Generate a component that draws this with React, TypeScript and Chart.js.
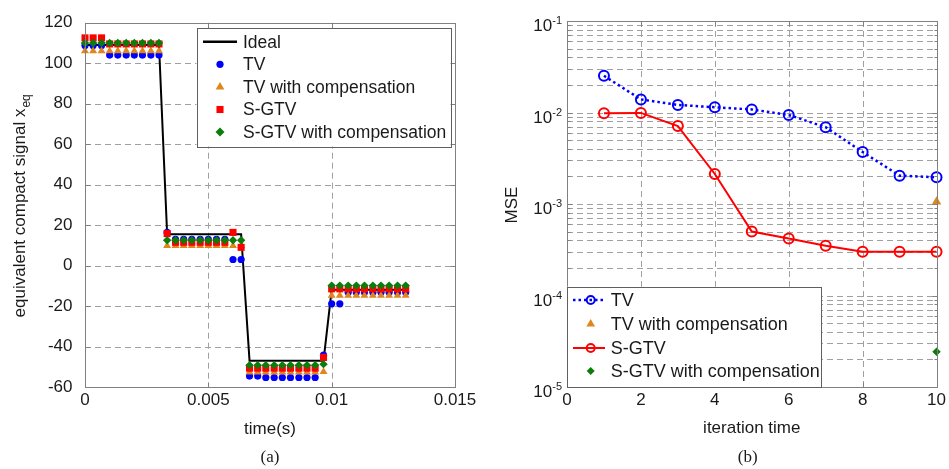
import React, { useEffect, useRef } from 'react';
import { Chart, registerables } from 'chart.js';

Chart.register(...registerables);

// ---------------- (a) time-domain signal ----------------
const TIME = [
  0, 0.00033, 0.00067, 0.001, 0.00133, 0.00167, 0.002, 0.00233, 0.00267, 0.003,
  0.00333, 0.00367, 0.004, 0.00433, 0.00467, 0.005, 0.00533, 0.00567, 0.006, 0.00633,
  0.00667, 0.007, 0.00733, 0.00767, 0.008, 0.00833, 0.00867, 0.009, 0.00933, 0.00967,
  0.01, 0.01033, 0.01067, 0.011, 0.01133, 0.01167, 0.012, 0.01233, 0.01267, 0.013,
];
const IDEAL = [
  109, 109, 109, 109, 109, 109, 109, 109, 109, 109,
  15.5, 15.5, 15.5, 15.5, 15.5, 15.5, 15.5, 15.5, 15.5, 15.5,
  -47, -47, -47, -47, -47, -47, -47, -47, -47, -47,
  -12, -12, -12, -12, -12, -12, -12, -12, -12, -12,
];
const TV = [
  108.7, 108.7, 108.7, 104, 104, 104, 104, 104, 104, 104,
  16.4, 13, 13, 13, 13, 13, 13, 13, 3, 3,
  -54.6, -54.6, -55.3, -55.3, -55.3, -55.3, -55.3, -55.3, -55.3, -44.3,
  -18.9, -18.9, -13.2, -13.2, -13.2, -13.2, -13.2, -13.2, -13.2, -13.2,
];
const TV_COMP = [
  106, 106, 106, 106, 106, 106, 106, 106, 106, 106,
  9.8, 9.8, 9.8, 9.8, 9.8, 9.8, 9.8, 9.8, 9.8, 9.8,
  -52.7, -52.7, -52.7, -52.7, -52.7, -52.7, -52.7, -52.7, -52.7, -52.5,
  -14.8, -14.8, -14.8, -14.8, -14.8, -14.8, -14.8, -14.8, -14.8, -14.8,
];
const SGTV = [
  112.5, 112.5, 112.5, 109.5, 109.5, 109.5, 109.5, 109.5, 109.5, 109.5,
  15.8, 11.5, 11.5, 11.5, 11.5, 11.5, 11.5, 11.5, 16.4, 9,
  -50.7, -50.7, -50.7, -50.7, -50.7, -50.7, -50.7, -50.7, -50.7, -45.4,
  -11.5, -11.5, -11.5, -11.5, -11.5, -11.5, -11.5, -11.5, -11.5, -11.5,
];
const SGTV_COMP = [
  110, 110, 110, 110, 110, 110, 110, 110, 110, 110,
  12.5, 12.5, 12.5, 12.5, 12.5, 12.5, 12.5, 12.5, 12.5, 12.5,
  -49.2, -49.2, -49.2, -49.2, -49.2, -49.2, -49.2, -49.2, -49.2, -48.7,
  -9.9, -9.9, -9.9, -9.9, -9.9, -9.9, -9.9, -9.9, -9.9, -9.9,
];
const A_X_TICKS = [0, 0.005, 0.01, 0.015];
const A_Y_TICKS = [-60, -40, -20, 0, 20, 40, 60, 80, 100, 120];

// ---------------- (b) MSE vs iteration ----------------
const ITER = [1, 2, 3, 4, 5, 6, 7, 8, 9, 10];
const MSE_TV = [0.0252, 0.0139, 0.0121, 0.0114, 0.0108, 0.0094, 0.0069, 0.0037, 0.00204, 0.00196];
const MSE_SGTV = [0.0098, 0.0099, 0.0071, 0.00213, 0.0005, 0.00042, 0.00035, 0.0003, 0.0003, 0.0003];
const COMP_ITER = [10];
const MSE_TV_COMP = [0.00106];
const MSE_SGTV_COMP = [0.0000243];
const B_X_TICKS = [0, 2, 4, 6, 8, 10];
const B_Y_DECADES = [-5, -4, -3, -2, -1];
const B_Y_MINOR = [1, 2, 3, 4, 5, 6, 7, 8, 9];

// ---------------- styles ----------------
const FONT = '"Liberation Sans", Arial, Helvetica, sans-serif';
const SERIF = '"Liberation Serif", "Times New Roman", serif';
const TEXT = '#1a1a1a';
const GRID = '#a0a0a0';
const BOX = '#808080';
const BLUE = '#0000ff';
const ORANGE = '#e0861a';
const RED = '#ff0000';
const GREEN = '#0a7d0a';

const LEFT_W = 490;
const RIGHT_W = 949 - LEFT_W;
const H = 469;

function seg(ctx: CanvasRenderingContext2D, x1: number, y1: number, x2: number, y2: number) {
  ctx.beginPath();
  ctx.moveTo(x1, y1);
  ctx.lineTo(x2, y2);
  ctx.stroke();
}

function marker(ctx: CanvasRenderingContext2D, style: string, x: number, y: number, r: number, color: string, hollow = false, lw = 0) {
  ctx.save();
  ctx.beginPath();
  if (style === 'circle') {
    ctx.arc(x, y, r, 0, Math.PI * 2);
  } else if (style === 'triangle') {
    ctx.moveTo(x, y - r);
    ctx.lineTo(x + r * 0.866, y + r * 0.5);
    ctx.lineTo(x - r * 0.866, y + r * 0.5);
    ctx.closePath();
  } else if (style === 'rect') {
    const s = r * Math.SQRT1_2;
    ctx.rect(x - s, y - s, 2 * s, 2 * s);
  } else if (style === 'rectRot') {
    ctx.moveTo(x - r, y);
    ctx.lineTo(x, y - r);
    ctx.lineTo(x + r, y);
    ctx.lineTo(x, y + r);
    ctx.closePath();
  }
  if (hollow) {
    ctx.strokeStyle = color;
    ctx.lineWidth = lw;
    ctx.stroke();
  } else {
    ctx.fillStyle = color;
    ctx.fill();
  }
  ctx.restore();
}

function drawGrid(chart: any, xVals: number[], yVals: number[]) {
  const { ctx, chartArea: a, scales } = chart;
  const xs = scales.x;
  const ys = scales.y;
  ctx.save();
  ctx.strokeStyle = GRID;
  ctx.lineWidth = 1;
  ctx.setLineDash([6, 4]);
  for (const v of xVals) {
    const px = Math.round(xs.getPixelForValue(v)) + 0.5;
    if (px <= a.left + 1 || px >= a.right - 1) continue;
    seg(ctx, px, a.top, px, a.bottom);
  }
  for (const v of yVals) {
    const py = Math.round(ys.getPixelForValue(v)) + 0.5;
    if (py <= a.top + 1 || py >= a.bottom - 1) continue;
    seg(ctx, a.left, py, a.right, py);
  }
  ctx.restore();
}

function drawBox(chart: any, xVals: number[], yMajor: number[], yMinor: number[] = []) {
  const { ctx, chartArea: a, scales } = chart;
  const xs = scales.x;
  const ys = scales.y;
  ctx.save();
  ctx.strokeStyle = BOX;
  ctx.lineWidth = 1;
  ctx.setLineDash([]);
  const L = Math.round(a.left) + 0.5;
  const R = Math.round(a.right) + 0.5;
  const T = Math.round(a.top) + 0.5;
  const B = Math.round(a.bottom) + 0.5;
  ctx.strokeRect(L, T, R - L, B - T);
  for (const v of xVals) {
    const px = Math.round(xs.getPixelForValue(v)) + 0.5;
    seg(ctx, px, B, px, B - 5);
    seg(ctx, px, T, px, T + 5);
  }
  for (const v of yMajor) {
    const py = Math.round(ys.getPixelForValue(v)) + 0.5;
    seg(ctx, L, py, L + 5, py);
    seg(ctx, R, py, R - 5, py);
  }
  for (const v of yMinor) {
    const py = Math.round(ys.getPixelForValue(v)) + 0.5;
    seg(ctx, L, py, L + 3, py);
    seg(ctx, R, py, R - 3, py);
  }
  ctx.restore();
}

type LegendRow = { label: string; line?: { color: string; dash: number[]; width: number }; mark?: { style: string; r: number; color: string; hollow?: boolean; lw?: number } };

function drawLegend(ctx: CanvasRenderingContext2D, box: { x: number; y: number; w: number; h: number }, rows: LegendRow[], rowY: number[], lineX: [number, number], markX: number, textX: number, fontPx: number) {
  ctx.save();
  ctx.fillStyle = '#ffffff';
  ctx.fillRect(box.x, box.y, box.w, box.h);
  ctx.strokeStyle = '#606060';
  ctx.lineWidth = 1;
  ctx.setLineDash([]);
  ctx.strokeRect(Math.round(box.x) + 0.5, Math.round(box.y) + 0.5, Math.round(box.w), Math.round(box.h));
  rows.forEach((row, i) => {
    const y = rowY[i];
    if (row.line) {
      ctx.save();
      ctx.strokeStyle = row.line.color;
      ctx.lineWidth = row.line.width;
      ctx.setLineDash(row.line.dash);
      seg(ctx, lineX[0], y, lineX[1], y);
      ctx.restore();
    }
    if (row.mark) {
      marker(ctx, row.mark.style, markX, y, row.mark.r, row.mark.color, !!row.mark.hollow, row.mark.lw || 0);
    }
    ctx.fillStyle = TEXT;
    ctx.font = `${fontPx}px ${FONT}`;
    ctx.textAlign = 'left';
    ctx.textBaseline = 'middle';
    ctx.fillText(row.label, textX, y + 1);
  });
  ctx.restore();
}

const leftPlugin = {
  id: 'leftDeco',
  beforeDatasetsDraw(chart: any) {
    drawGrid(chart, A_X_TICKS, A_Y_TICKS);
  },
  afterDatasetsDraw(chart: any) {
    drawBox(chart, A_X_TICKS, A_Y_TICKS);
  },
  afterDraw(chart: any) {
    const { ctx, chartArea: a } = chart;
    drawLegend(
      ctx,
      { x: 196.5, y: 28, w: 254, h: 118.5 },
      [
        { label: 'Ideal', line: { color: '#000', dash: [], width: 2.5 } },
        { label: 'TV', mark: { style: 'circle', r: 3.6, color: BLUE } },
        { label: 'TV with compensation', mark: { style: 'triangle', r: 5, color: ORANGE } },
        { label: 'S-GTV', mark: { style: 'rect', r: 5, color: RED } },
        { label: 'S-GTV with compensation', mark: { style: 'rectRot', r: 4.5, color: GREEN } },
      ],
      [41.7, 64.3, 86.9, 109.5, 132.1],
      [203, 237],
      220,
      243,
      17.5,
    );
    ctx.save();
    ctx.fillStyle = TEXT;
    // x title
    ctx.font = `17px ${FONT}`;
    ctx.textAlign = 'center';
    ctx.textBaseline = 'middle';
    const cx = (a.left + a.right) / 2;
    ctx.fillText('time(s)', cx, 429);
    ctx.font = `17px ${SERIF}`;
    ctx.fillText('(a)', cx, 458);
    // y title with subscript
    ctx.translate(25, (a.top + a.bottom) / 2 + 1);
    ctx.rotate(-Math.PI / 2);
    ctx.textBaseline = 'alphabetic';
    ctx.textAlign = 'left';
    const main = 'equivalent compact signal x';
    const sub = 'eq';
    ctx.font = `17px ${FONT}`;
    const wm = ctx.measureText(main).width;
    ctx.font = `12px ${FONT}`;
    const ws = ctx.measureText(sub).width;
    const start = -(wm + ws + 1) / 2;
    ctx.font = `17px ${FONT}`;
    ctx.fillText(main, start, 0);
    ctx.font = `12px ${FONT}`;
    ctx.fillText(sub, start + wm + 1, 4.5);
    ctx.restore();
  },
};

const B_MINOR_VALUES: number[] = [];
B_Y_DECADES.forEach((d) => {
  if (d === B_Y_DECADES[B_Y_DECADES.length - 1]) return;
  B_Y_MINOR.forEach((m) => {
    if (m > 1) B_MINOR_VALUES.push(m * Math.pow(10, d));
  });
});
const B_MAJOR_VALUES = B_Y_DECADES.map((d) => Math.pow(10, d));

const rightPlugin = {
  id: 'rightDeco',
  beforeDatasetsDraw(chart: any) {
    drawGrid(chart, B_X_TICKS, [...B_MAJOR_VALUES, ...B_MINOR_VALUES]);
  },
  afterDatasetsDraw(chart: any) {
    drawBox(chart, B_X_TICKS, B_MAJOR_VALUES, B_MINOR_VALUES);
  },
  afterDraw(chart: any) {
    const { ctx, chartArea: a, scales } = chart;
    const ys = scales.y;
    drawLegend(
      ctx,
      { x: a.left, y: 286.7, w: 331 - a.left, h: a.bottom - 286.7 },
      [
        { label: 'TV', line: { color: BLUE, dash: [2.5, 3], width: 2.5 }, mark: { style: 'circle', r: 4, color: BLUE, hollow: true, lw: 2 } },
        { label: 'TV with compensation', mark: { style: 'triangle', r: 5, color: ORANGE } },
        { label: 'S-GTV', line: { color: RED, dash: [], width: 2 }, mark: { style: 'circle', r: 4, color: RED, hollow: true, lw: 2 } },
        { label: 'S-GTV with compensation', mark: { style: 'rectRot', r: 4, color: GREEN } },
      ],
      [300, 324, 348, 371],
      [83, 115],
      100.7,
      120.7,
      18,
    );
    ctx.save();
    ctx.fillStyle = TEXT;
    // y tick labels 10^n
    B_Y_DECADES.forEach((d) => {
      const py = ys.getPixelForValue(Math.pow(10, d));
      const supTxt = String(d);
      ctx.font = `11px ${FONT}`;
      const sw = ctx.measureText(supTxt).width;
      const right = a.left - 5;
      ctx.textAlign = 'right';
      ctx.textBaseline = 'alphabetic';
      ctx.fillText(supTxt, right, py + 3);
      ctx.font = `17px ${FONT}`;
      ctx.fillText('10', right - sw, py + 10);
    });
    // titles
    ctx.font = `17px ${FONT}`;
    ctx.textAlign = 'center';
    ctx.textBaseline = 'middle';
    const cx = (a.left + a.right) / 2;
    ctx.fillText('iteration time', cx, 428);
    ctx.font = `17px ${SERIF}`;
    ctx.fillText('(b)', cx - 4, 458);
    ctx.font = `17px ${FONT}`;
    ctx.translate(a.left - 50, (a.top + a.bottom) / 2 + 1);
    ctx.rotate(-Math.PI / 2);
    ctx.textBaseline = 'alphabetic';
    ctx.fillText('MSE', 0, 0);
    ctx.restore();
  },
};

function pts(xs: number[], ys: number[]) {
  return ys.map((y, i) => ({ x: xs[i], y }));
}

function makeLeft(canvas: HTMLCanvasElement) {
  const mk = (label: string, ys: number[], style: string, r: number, color: string, order: number) => ({
    label,
    data: pts(TIME, ys),
    showLine: false,
    pointStyle: style,
    pointRadius: r,
    pointBackgroundColor: color,
    pointBorderColor: color,
    pointBorderWidth: 0,
    order,
    clip: false,
  });
  return new Chart(canvas, {
    type: 'scatter',
    data: {
      datasets: [
        {
          label: 'Ideal',
          data: pts(TIME, IDEAL),
          showLine: true,
          borderColor: '#000000',
          borderWidth: 2,
          pointRadius: 0,
          order: 5,
        } as any,
        mk('TV', TV, 'circle', 3.6, BLUE, 4),
        mk('TV with compensation', TV_COMP, 'triangle', 4.6, ORANGE, 3),
        mk('S-GTV', SGTV, 'rect', 5, RED, 2),
        mk('S-GTV with compensation', SGTV_COMP, 'rectRot', 4.2, GREEN, 1),
      ],
    },
    options: {
      animation: false,
      responsive: false,
      maintainAspectRatio: false,
      devicePixelRatio: 1,
      layout: { padding: { top: 21, right: LEFT_W - 455, left: 0, bottom: 0 } },
      plugins: { legend: { display: false }, tooltip: { enabled: false } },
      scales: {
        x: {
          type: 'linear',
          min: 0,
          max: 0.015,
          afterBuildTicks: (s: any) => {
            s.ticks = A_X_TICKS.map((v) => ({ value: v }));
          },
          afterFit: (s: any) => {
            s.height = H - 387;
          },
          ticks: {
            color: TEXT,
            font: { family: FONT, size: 17 },
            padding: 3,
            maxRotation: 0,
            autoSkip: false,
            callback: (v: any) => String(v),
          },
          grid: { display: false, drawTicks: false },
          border: { display: false },
        },
        y: {
          type: 'linear',
          min: -60,
          max: 120,
          afterBuildTicks: (s: any) => {
            s.ticks = A_Y_TICKS.map((v) => ({ value: v }));
          },
          afterFit: (s: any) => {
            s.width = 85;
          },
          ticks: {
            color: TEXT,
            font: { family: FONT, size: 17 },
            padding: 12.5,
            autoSkip: false,
            callback: (v: any) => String(v),
          },
          grid: { display: false, drawTicks: false },
          border: { display: false },
        },
      },
    } as any,
    plugins: [leftPlugin],
  });
}

function makeRight(canvas: HTMLCanvasElement) {
  const chartLeft = 567 - LEFT_W;
  return new Chart(canvas, {
    type: 'scatter',
    data: {
      datasets: [
        {
          label: 'TV',
          data: pts(ITER, MSE_TV),
          showLine: true,
          borderColor: BLUE,
          borderWidth: 2.5,
          borderDash: [2.5, 3],
          pointStyle: 'circle',
          pointRadius: 5,
          pointBorderWidth: 2,
          pointBorderColor: BLUE,
          pointBackgroundColor: 'rgba(0,0,0,0)',
          clip: false,
        },
        {
          label: 'TV with compensation',
          data: pts(COMP_ITER, MSE_TV_COMP),
          showLine: false,
          pointStyle: 'triangle',
          pointRadius: 5.5,
          pointBorderWidth: 0,
          pointBackgroundColor: ORANGE,
          pointBorderColor: ORANGE,
          clip: false,
        },
        {
          label: 'S-GTV',
          data: pts(ITER, MSE_SGTV),
          showLine: true,
          borderColor: RED,
          borderWidth: 2,
          pointStyle: 'circle',
          pointRadius: 5,
          pointBorderWidth: 2,
          pointBorderColor: RED,
          pointBackgroundColor: 'rgba(0,0,0,0)',
          clip: false,
        },
        {
          label: 'S-GTV with compensation',
          data: pts(COMP_ITER, MSE_SGTV_COMP),
          showLine: false,
          pointStyle: 'rectRot',
          pointRadius: 4.2,
          pointBorderWidth: 0,
          pointBackgroundColor: GREEN,
          pointBorderColor: GREEN,
          clip: false,
        },
      ] as any,
    },
    options: {
      animation: false,
      responsive: false,
      maintainAspectRatio: false,
      devicePixelRatio: 1,
      layout: { padding: { top: 21, right: RIGHT_W - (937.5 - LEFT_W), left: 0, bottom: 0 } },
      plugins: { legend: { display: false }, tooltip: { enabled: false } },
      scales: {
        x: {
          type: 'linear',
          min: 0,
          max: 10,
          afterBuildTicks: (s: any) => {
            s.ticks = B_X_TICKS.map((v) => ({ value: v }));
          },
          afterFit: (s: any) => {
            s.height = H - 387;
          },
          ticks: {
            color: TEXT,
            font: { family: FONT, size: 17 },
            padding: 3,
            maxRotation: 0,
            autoSkip: false,
            callback: (v: any) => String(v),
          },
          grid: { display: false, drawTicks: false },
          border: { display: false },
        },
        y: {
          type: 'logarithmic',
          min: 1e-5,
          max: 1e-1,
          afterBuildTicks: (s: any) => {
            s.ticks = [...B_MAJOR_VALUES, ...B_MINOR_VALUES].sort((p, q) => p - q).map((v) => ({ value: v }));
          },
          afterFit: (s: any) => {
            s.width = chartLeft;
          },
          ticks: { display: false },
          grid: { display: false, drawTicks: false },
          border: { display: false },
        },
      },
    } as any,
    plugins: [rightPlugin],
  });
}

export default function App() {
  const leftRef = useRef<HTMLCanvasElement>(null);
  const rightRef = useRef<HTMLCanvasElement>(null);
  useEffect(() => {
    const c1 = makeLeft(leftRef.current!);
    const c2 = makeRight(rightRef.current!);
    return () => {
      c1.destroy();
      c2.destroy();
    };
  }, []);
  return (
    <div style={{ position: 'fixed', left: 0, top: 0, width: 949, height: H, background: '#ffffff', overflow: 'hidden' }}>
      <canvas ref={leftRef} width={LEFT_W} height={H} style={{ position: 'absolute', left: 0, top: 0, width: LEFT_W, height: H }} />
      <canvas ref={rightRef} width={RIGHT_W} height={H} style={{ position: 'absolute', left: LEFT_W, top: 0, width: RIGHT_W, height: H }} />
    </div>
  );
}
